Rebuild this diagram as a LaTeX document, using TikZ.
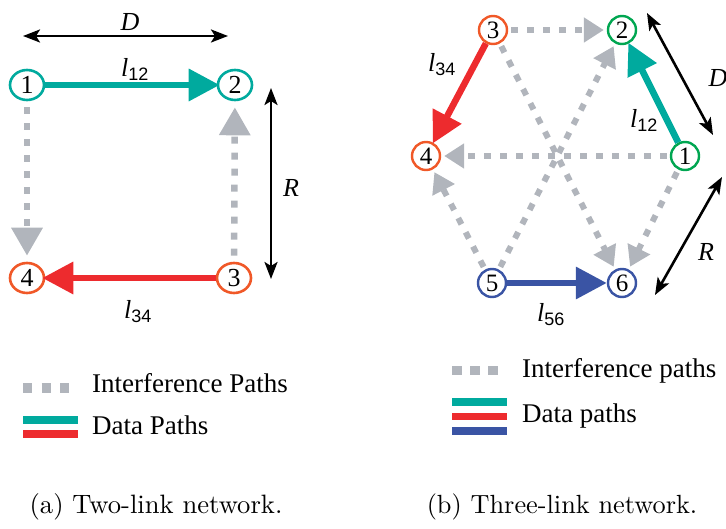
\documentclass[tikz,border=0pt]{standalone}
\usepackage{fontspec}
\usepackage{graphicx}
\newfontfamily\tms{Liberation Serif}
\setsansfont{Liberation Sans}
\usetikzlibrary{arrows.meta,shapes.geometric}
\definecolor{cTeal}{RGB}{0,170,158}
\definecolor{cRed}{RGB}{237,43,46}
\definecolor{cOrange}{RGB}{240,88,40}
\definecolor{cGreen}{RGB}{0,166,81}
\definecolor{cBlue}{RGB}{58,84,164}
\definecolor{cGray}{RGB}{177,181,188}
\newcommand{\lsub}[2]{{\itshape #1}\raisebox{-4pt}{\sffamily\fontsize{18}{18}\selectfont #2}}
\begin{document}
\begin{tikzpicture}[x=1pt,y=-1pt,
  nodeL/.style={ellipse,draw,line width=2.6pt,minimum width=34pt,minimum height=30pt,inner sep=0pt,font=\tms\fontsize{26}{26}\selectfont},
  nodeR/.style={circle,draw,line width=2.4pt,minimum size=28pt,inner sep=0pt,font=\tms\fontsize{25}{25}\selectfont},
  data/.style={line width=6.5pt,-{Triangle[length=31pt,width=31pt]},shorten >=-3pt},
  interf/.style={cGray,line width=6.5pt,dash pattern=on 7pt off 9pt,-{Triangle[length=28pt,width=30pt]},shorten <=6pt,shorten >=6pt},
  interfs/.style={cGray,line width=6pt,dash pattern=on 7pt off 9pt,-{Triangle[length=20pt,width=24pt]},shorten <=3pt,shorten >=3pt},
  dimarrow/.style={line width=2.6pt,{Stealth[length=17pt,width=13pt,inset=4pt]}-{Stealth[length=17pt,width=13pt,inset=4pt]}},
  lbl/.style={font=\tms\fontsize{26}{26}\selectfont,inner sep=0pt},
  leg/.style={font=\tms\fontsize{27}{27}\selectfont,anchor=base west,inner sep=0pt},
  bar/.style={line width=7.5pt},
]
\useasboundingbox (0,0) rectangle (726,529);

% ---------- left network ----------
\node[nodeL,cTeal] (L1) at (27,85) {\color{black}1};
\node[nodeL,cTeal] (L2) at (235,85) {\color{black}2};
\node[nodeL,cOrange] (L3) at (234,278) {\color{black}3};
\node[nodeL,cOrange] (L4) at (27,278) {\color{black}4};

\draw[data,cTeal] (L1) -- (L2);
\draw[data,cRed] (L3) -- (L4);
\draw[interf] (L1) -- (L4);
\draw[interf] (L3) -- (L2);

\coordinate (DLa) at (23,36);
\coordinate (DLb) at (228,36);
\draw[dimarrow] (DLa) -- (DLb);
\node[lbl] (DL) at (130,22) {\itshape D};
\coordinate (RLa) at (271,88);
\coordinate (RLb) at (271,279);
\draw[dimarrow] (RLa) -- (RLb);
\node[lbl] (RL) at (291,188) {\itshape R};
\node[lbl,anchor=base west] (l12L) at (121,77) {\lsub{l}{12}};
\node[lbl,anchor=base west] (l34L) at (124,319) {\lsub{l}{34}};

% left legend
\coordinate (gLa) at (23,388); \coordinate (gLb) at (71,388);
\draw[cGray,line width=9.5pt,dash pattern=on 9pt off 9.5pt] (gLa) -- (gLb);
\coordinate (tLa) at (23,420); \coordinate (tLb) at (78,420);
\draw[bar,cTeal] (tLa) -- (tLb);
\coordinate (rLa) at (23,434); \coordinate (rLb) at (78,434);
\draw[bar,cRed] (rLa) -- (rLb);
\node[leg] (iL) at (92,393) {Interference Paths};
\node[leg] (dL) at (92,435) {Data Paths};

% ---------- right network ----------
\node[nodeR,cGreen] (R1) at (685,156) {\color{black}1};
\node[nodeR,cGreen] (R2) at (622,30) {\color{black}2};
\node[nodeR,cOrange] (R3) at (493,30) {\color{black}3};
\node[nodeR,cOrange] (R4) at (426,156) {\color{black}4};
\node[nodeR,cBlue] (R5) at (492,283) {\color{black}5};
\node[nodeR,cBlue] (R6) at (622,283) {\color{black}6};

\draw[interfs] (R3) -- (R2);
\draw[interfs] (R1) -- (R4);
\draw[interfs] (R3) -- (R6);
\draw[interfs] (R5) -- (R2);
\draw[interfs] (R5) -- (R4);
\draw[interfs] (R1) -- (R6);
\draw[data,cRed,shorten >=-1pt] (R3) -- (R4);
\draw[data,cTeal,shorten >=-1pt] (R1) -- (R2);
\draw[data,cBlue,shorten >=0pt] (R5) -- (R6);

\coordinate (DRa) at (647,13);
\coordinate (DRb) at (713,135);
\draw[dimarrow] (DRa) -- (DRb);
\node[lbl] (DR) at (718,78) {\itshape D};
\coordinate (RRa) at (722,177);
\coordinate (RRb) at (655,295);
\draw[dimarrow] (RRa) -- (RRb);
\node[lbl] (RR) at (706,252) {\itshape R};
\node[lbl,anchor=base west] (l34R) at (428,72) {\lsub{l}{34}};
\node[lbl,anchor=base west] (l12R) at (630,128) {\lsub{l}{12}};
\node[lbl,anchor=base west] (l56R) at (537,322) {\lsub{l}{56}};

% right legend
\coordinate (gRa) at (452,371); \coordinate (gRb) at (499,371);
\draw[cGray,line width=9pt,dash pattern=on 10pt off 8pt] (gRa) -- (gRb);
\coordinate (tRa) at (452,402); \coordinate (tRb) at (507,402);
\draw[bar,cTeal] (tRa) -- (tRb);
\coordinate (rRa) at (452,416.5); \coordinate (rRb) at (507,416.5);
\draw[bar,cRed] (rRa) -- (rRb);
\coordinate (bRa) at (452,431); \coordinate (bRb) at (507,431);
\draw[bar,cBlue] (bRa) -- (bRb);
\node[leg] (iR) at (522,378) {Interference paths};
\node[leg] (dR) at (522,423) {Data paths};

% captions
\node[anchor=base,inner sep=0pt] (capA) at (156,513) {\scalebox{2.66}{(a) Two-link network.}};
\node[anchor=base,inner sep=0pt] (capB) at (562,513) {\scalebox{2.63}{(b) Three-link network.}};
\end{tikzpicture}
\end{document}
